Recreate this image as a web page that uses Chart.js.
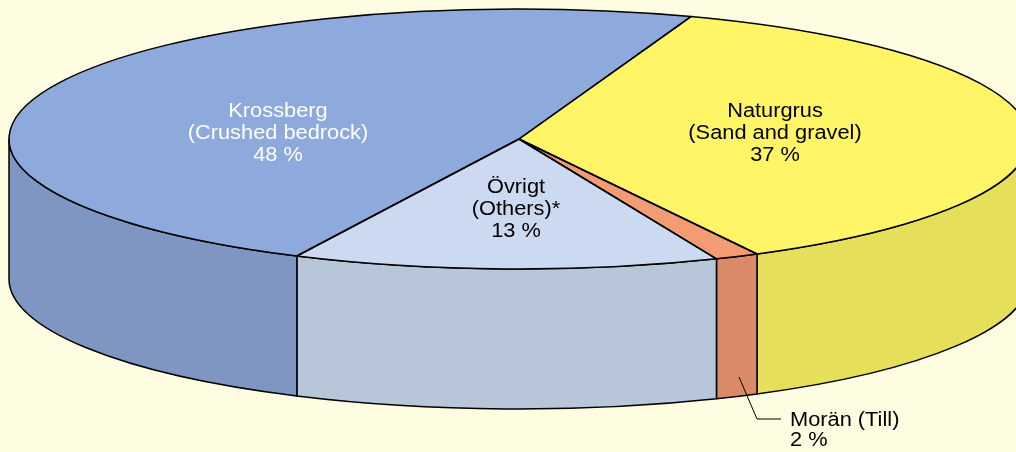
<!DOCTYPE html>
<html>
<head>
<meta charset="utf-8">
<script src="https://cdn.jsdelivr.net/npm/chart.js@4.4.1/dist/chart.umd.min.js"></script>
<style>
  html, body { margin: 0; padding: 0; background: #FFFDE1; }
  #wrap { width: 1016px; height: 452px; overflow: hidden; }
</style>
</head>
<body>
<div id="wrap"><canvas id="c" width="1016" height="452"></canvas></div>
<script>
// ---- data ----
const categories = ['Naturgrus', 'Morän', 'Övrigt', 'Krossberg'];
const values = [36.8, 1.4, 13.5, 48.3];
const labelLines = [
  ['Naturgrus', '(Sand and gravel)', '37 %'],
  ['Morän (Till)', '2 %'],
  ['Övrigt', '(Others)*', '13 %'],
  ['Krossberg', '(Crushed bedrock)', '48 %']
];

// ---- styles / layout ----
const topColors  = ['#FFF566', '#F39C74', '#CBDAF1', '#8EA9DB'];
const sideColors = ['#E5DF5A', '#D98A68', '#B7C6D9', '#7F96C2'];
const textColors = ['#000000', '#000000', '#000000', '#FFFFFF'];
const labelPos = [ {x: 775, y: 117, align: 'center'},
                   {x: 790, y: 426, align: 'left'},
                   {x: 516, y: 193, align: 'center'},
                   {x: 278, y: 117, align: 'center'} ];
const leader = [[739, 377], [757, 419], [781, 419]];
const CX = 519, CY = 139, RX = 510, RY = 130, DEPTH = 140;
const FONT = '20px "Liberation Sans", Arial, sans-serif';
const LINE_H = 22, STRETCH = 1.09;

function wall(ctx, t0, t1, fill) {
  ctx.beginPath();
  ctx.ellipse(CX, CY, RX, RY, 0, t0, t1, false);
  ctx.lineTo(CX + RX * Math.cos(t1), CY + DEPTH + RY * Math.sin(t1));
  ctx.ellipse(CX, CY + DEPTH, RX, RY, 0, t1, t0, true);
  ctx.closePath();
  ctx.fillStyle = fill;
  ctx.fill();
  ctx.strokeStyle = '#000';
  ctx.lineWidth = 1.5;
  ctx.lineJoin = 'round';
  ctx.stroke();
}

const pie3d = {
  id: 'pie3d',
  beforeDraw(chart) {
    const ctx = chart.ctx;
    ctx.save();
    ctx.fillStyle = '#FFFDE1';
    ctx.fillRect(0, 0, chart.width, chart.height);
    ctx.restore();
  },
  beforeDatasetsDraw(chart) {
    const ctx = chart.ctx;
    const meta = chart.getDatasetMeta(0);
    // front walls
    meta.data.forEach((arc, i) => {
      for (let k = -1; k <= 1; k++) {
        const s = arc.startAngle + 2 * Math.PI * k;
        const e = arc.endAngle + 2 * Math.PI * k;
        const lo = Math.max(s, 0), hi = Math.min(e, Math.PI);
        if (lo < hi) wall(ctx, lo, hi, sideColors[i]);
      }
    });
    // squash the library's circle into the top ellipse
    const a0 = meta.data[0];
    ctx.save();
    ctx.translate(CX, CY);
    ctx.scale(RX / a0.outerRadius, RY / a0.outerRadius);
    ctx.translate(-a0.x, -a0.y);
  },
  afterDatasetsDraw(chart) {
    const ctx = chart.ctx;
    ctx.restore();
    const meta = chart.getDatasetMeta(0);
    ctx.save();
    ctx.strokeStyle = '#000';
    ctx.lineWidth = 1.5;
    ctx.lineJoin = 'round';
    meta.data.forEach((arc) => {
      ctx.beginPath();
      ctx.moveTo(CX, CY);
      ctx.ellipse(CX, CY, RX, RY, 0, arc.startAngle, arc.endAngle, false);
      ctx.closePath();
      ctx.stroke();
    });
    // labels
    ctx.font = FONT;
    ctx.textBaseline = 'alphabetic';
    labelLines.forEach((lines, i) => {
      const p = labelPos[i];
      lines.forEach((t, j) => {
        ctx.save();
        ctx.translate(p.x, p.y + j * (i === 1 ? 20 : LINE_H));
        ctx.scale(STRETCH, 1);
        ctx.textAlign = p.align;
        ctx.fillStyle = textColors[i];
        ctx.fillText(t, 0, 0);
        ctx.restore();
      });
    });
    // leader line for Morän
    ctx.beginPath();
    ctx.lineWidth = 1;
    ctx.moveTo(leader[0][0], leader[0][1]);
    for (let k = 1; k < leader.length; k++) ctx.lineTo(leader[k][0], leader[k][1]);
    ctx.stroke();
    ctx.restore();
  }
};

new Chart(document.getElementById('c'), {
  type: 'pie',
  data: {
    labels: categories,
    datasets: [{
      data: values,
      backgroundColor: topColors,
      borderWidth: 0,
      clip: false
    }]
  },
  options: {
    responsive: false,
    devicePixelRatio: 1,
    animation: false,
    rotation: 19.7,
    layout: { padding: 0 },
    plugins: { legend: { display: false }, tooltip: { enabled: false } }
  },
  plugins: [pie3d]
});
</script>
</body>
</html>
